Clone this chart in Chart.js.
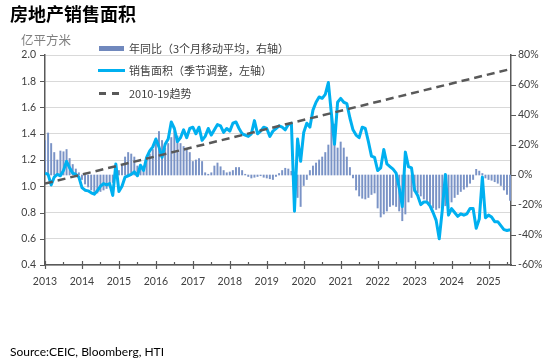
<!DOCTYPE html>
<html><head><meta charset="utf-8">
<script src="https://cdn.jsdelivr.net/npm/chart.js@4.4.1/dist/chart.umd.min.js"></script>
<style>
html,body{margin:0;padding:0;background:#fff;}
#wrap{position:relative;width:550px;height:360px;overflow:hidden;background:#fff;}
#c{position:absolute;left:0;top:0;}
.t{position:absolute;white-space:nowrap;}
.cjk{font-family:'Noto Sans CJK SC',sans-serif;}
</style></head><body>
<div id="wrap">
<canvas id="c" width="550" height="360"></canvas>
<div class="t cjk" style="left:10px;top:4px;font-size:18px;line-height:18px;font-weight:700;color:#000;">房地产销售面积</div>
<div class="t cjk" style="left:21px;top:34px;font-size:12.5px;line-height:12.5px;color:#7f7f7f;">亿平方米</div>
<div class="t" style="left:99px;top:46px;width:25px;height:5px;background:#7088bd;"></div>
<div class="t cjk" style="left:129px;top:42.5px;font-size:11px;line-height:11px;color:#404040;">年同比（3个月移动平均，右轴）</div>
<div class="t" style="left:98px;top:68.5px;width:27px;height:3px;background:#00b0f0;"></div>
<div class="t cjk" style="left:129px;top:64.5px;font-size:11px;line-height:11px;color:#404040;">销售面积（季节调整，左轴）</div>
<div class="t" style="left:99px;top:92px;width:7px;height:2.5px;background:#595959;"></div>
<div class="t" style="left:112px;top:92px;width:7px;height:2.5px;background:#595959;"></div>
<div class="t cjk" style="left:129px;top:87.5px;font-size:11px;line-height:11px;color:#404040;">2010-19趋势</div>
<div class="t" style="left:10px;top:346px;font-family:Lato,sans-serif;font-size:12px;line-height:12px;color:#000;">Source:CEIC, Bloomberg, HTI</div>
</div>
<script>
// Month index 0 = Jan 2013
const years = ['2013','2014','2015','2016','2017','2018','2019','2020','2021','2022','2023','2024','2025'];
const sales = [
 1.10,1.09,1.01,1.07,1.09,1.08,1.12,1.19,1.14,1.10,1.09,1.07,
 0.99,0.97,0.965,0.95,0.94,0.965,1.00,1.02,1.01,1.02,0.93,1.17,
 0.96,1.00,1.07,1.08,1.09,1.11,1.08,1.16,1.12,1.22,1.27,1.30,
 1.36,1.30,1.22,1.32,1.36,1.49,1.44,1.34,1.37,1.43,1.37,1.44,
 1.45,1.40,1.45,1.35,1.38,1.44,1.39,1.43,1.47,1.46,1.41,1.44,
 1.42,1.48,1.49,1.44,1.40,1.39,1.38,1.40,1.50,1.40,1.42,1.45,
 1.44,1.38,1.42,1.44,1.46,1.45,1.43,1.47,1.48,0.81,1.36,1.19,
 1.41,1.48,1.45,1.58,1.64,1.68,1.67,1.70,1.79,1.55,1.32,1.64,
 1.67,1.64,1.63,1.52,1.43,1.39,1.37,1.45,1.44,1.34,1.23,1.22,
 1.12,1.14,1.28,1.17,1.15,1.13,1.10,0.99,0.845,1.26,1.15,1.14,
 0.97,0.93,0.86,0.88,0.88,0.85,0.80,0.74,0.60,0.82,1.09,0.78,
 0.83,0.80,0.77,0.79,0.78,0.79,0.83,0.83,0.68,0.75,1.07,0.76,
 0.78,0.765,0.73,0.73,0.70,0.67,0.663,0.668
];
const yoy = [
 23,28,21,15,10,16,15.5,17,11,7,4,1.5,
 -3,-6,-8,-10,-11,-12,-11,-10,-9,-8,-5,-1,
 3,6,12,15,14,12,6,5,6,10,14,17,
 21,29,23,18,21,25,29,26,21,19,17,15,
 9,10,11,9,1.5,0.5,1.5,6,8,5.5,3,1.5,
 2,3,5,5,3,0.5,-1,-2,-1.5,-1,-0.5,-1.5,
 -2,-2.5,-3,-1,1,3,4.5,4,2.5,-1,-15,-21,
 -7,-3,3,6,8,10,12,15,20,40,34,18,
 22,18,12,5,-2,-10,-14,-15.5,-16,-15,-13,-12,
 -22,-28,-26,-24,-21,-20,-21,-24,-30.5,-26,-18,-15,
 -11,-12,-14,-16,-17,-19.5,-22,-23,-22,-21,-20.5,-22,
 -18,-15,-13,-11,-9.5,-8,-5.5,-3,3.8,2.6,1,-2,
 -3,-3.5,-4.5,-5.5,-7,-10,-13,-17
];
const trendMonths = [0, 151.3];
const trendValues = [1.02, 1.894];
const xMax = 151.3;

const AXIS = '#595959';
const tickFont = {family:'Lato, sans-serif', size:10.5};

const tickMarks = {
  id:'tickMarks',
  afterDraw(chart){
    const {ctx, chartArea:a, scales:{x, y, y1}} = chart;
    ctx.save();
    ctx.strokeStyle = AXIS; ctx.lineWidth = 1.2;
    ctx.beginPath();
    for (let m = 0; m <= xMax; m += 6){
      const px = Math.round(x.getPixelForValue(m)) + 0.5;
      if (m % 12 === 0){ ctx.moveTo(px, a.bottom-4); ctx.lineTo(px, a.bottom+4); }
      else { ctx.moveTo(px, a.bottom-3); ctx.lineTo(px, a.bottom); }
    }
    y.ticks.forEach(t => { const py = Math.round(y.getPixelForValue(t.value))+0.5; ctx.moveTo(a.left-5, py); ctx.lineTo(a.left, py); });
    y1.ticks.forEach(t => { const py = Math.round(y1.getPixelForValue(t.value))+0.5; ctx.moveTo(a.right, py); ctx.lineTo(a.right+5, py); });
    ctx.stroke();
    ctx.restore();
  }
};

new Chart(document.getElementById('c'), {
  type:'bar',
  data:{
    datasets:[
      {type:'line', label:'2010-19趋势', data: trendMonths.map((m,k)=>({x:m, y:trendValues[k]})), yAxisID:'y',
       borderColor:'#595959', borderWidth:2.5, borderDash:[8,5], pointRadius:0, order:1},
      {type:'line', label:'销售面积（季节调整，左轴）', data: sales.map((v,i)=>({x:i, y:v})), yAxisID:'y',
       borderColor:'#00b0f0', borderWidth:3, pointRadius:0, tension:0, borderJoinStyle:'round', order:2},
      {type:'bar', label:'年同比（3个月移动平均，右轴）', data: yoy.map((v,i)=>({x:i, y:v})), yAxisID:'y1',
       backgroundColor:'#7a93c6', barThickness:1.3, order:3}
    ]
  },
  options:{
    responsive:false, animation:false, devicePixelRatio:1,
    layout:{padding:{top:55, bottom:65, left:0, right:0}},
    plugins:{legend:{display:false}, tooltip:{enabled:false}},
    scales:{
      x:{type:'linear', min:0, max:xMax, offset:false,
         ticks:{stepSize:6, autoSkip:false, maxRotation:0, padding:10, font:tickFont, color:'#404040',
                callback:(v)=> (Math.abs(v % 12) < 1e-6 ? (years[Math.round(v/12)] || '') : '')},
         grid:{display:false, drawTicks:false},
         border:{display:true, color:AXIS, width:1.5},
         afterFit:(s)=>{s.height = 30;}},
      y:{type:'linear', position:'left', min:0.4, max:2.0,
         ticks:{stepSize:0.2, padding:9, font:tickFont, color:'#404040', callback:(v)=>Number(v).toFixed(1)},
         grid:{color:'#d9d9d9', lineWidth:1, drawTicks:false},
         border:{display:true, color:AXIS, width:1.5},
         afterFit:(s)=>{s.width = 45;}},
      y1:{type:'linear', position:'right', min:-60, max:80,
         ticks:{stepSize:20, padding:7, font:tickFont, color:'#404040', callback:(v)=>Math.round(v)+'%'},
         grid:{display:false, drawTicks:false},
         border:{display:true, color:AXIS, width:1.5},
         afterFit:(s)=>{s.width = 39;}}
    }
  },
  plugins:[tickMarks]
});
</script>
</body></html>
